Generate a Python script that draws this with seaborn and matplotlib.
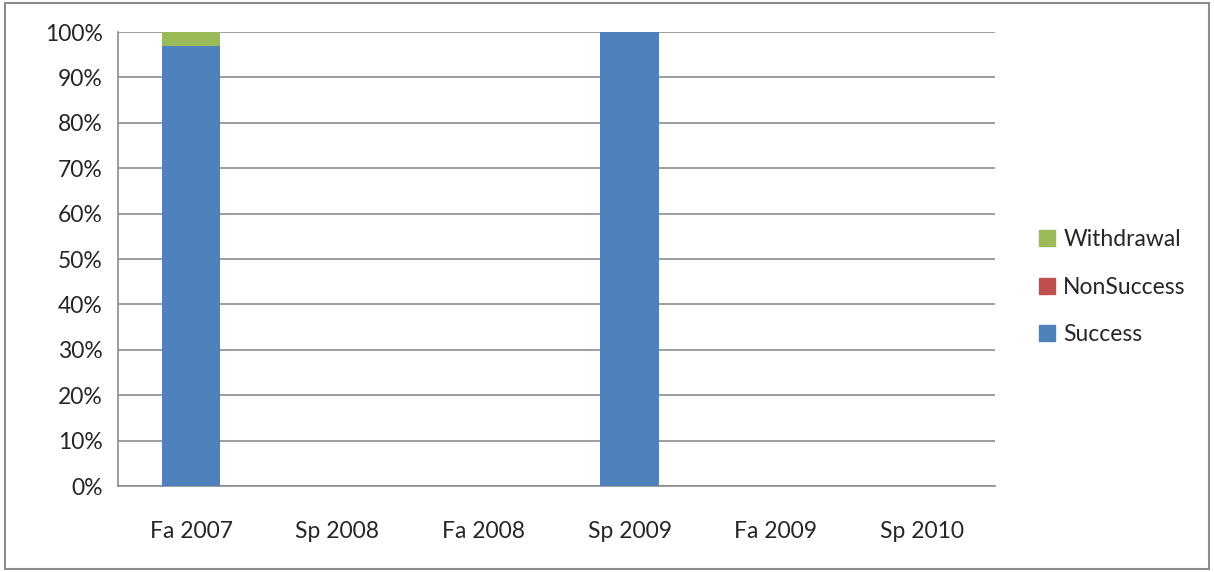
import numpy as np
import pandas as pd
import matplotlib
matplotlib.use("Agg")
import matplotlib.pyplot as plt
import seaborn as sns
from matplotlib.patches import Patch, Rectangle
from matplotlib.ticker import PercentFormatter

# Data (share of enrollments per term)
terms = ["Fa 2007", "Sp 2008", "Fa 2008", "Sp 2009", "Fa 2009", "Sp 2010"]
success = [96.9, 0, 0, 100, 0, 0]
nonsuccess = [0, 0, 0, 0, 0, 0]
withdrawal = [3.1, 0, 0, 0, 0, 0]

colors = {"Success": "#4f81bd", "NonSuccess": "#c0504d", "Withdrawal": "#9bbb59"}

df = pd.DataFrame({"term": terms, "Success": success,
                   "NonSuccess": nonsuccess, "Withdrawal": withdrawal})
df["s_ns"] = df["Success"] + df["NonSuccess"]
df["total"] = df["s_ns"] + df["Withdrawal"]

sns.set_style("white")
plt.rcParams['font.family'] = ['Lato', 'DejaVu Sans']
FS = 16.5

fig = plt.figure(figsize=(12.14, 5.72), dpi=100)
ax = fig.add_axes([0.0972, 0.1503, 0.7224, 0.7937])

# stacked by overdrawing cumulative totals
for col, key in [("total", "Withdrawal"), ("s_ns", "NonSuccess"), ("Success", "Success")]:
    sns.barplot(data=df, x="term", y=col, color=colors[key], width=0.4,
                saturation=1, linewidth=0, ax=ax, zorder=3)

ax.set_ylim(0, 100)
ax.set_xlim(-0.5, len(terms) - 0.5)
ax.set_yticks(np.arange(0, 101, 10))
ax.yaxis.set_major_formatter(PercentFormatter(decimals=0))
ax.set_xlabel("")
ax.set_ylabel("")

grid_c = "#8c8c8c"
ax.grid(axis="y", color=grid_c, linewidth=1.2, zorder=0)
ax.set_axisbelow(True)
for side in ["top", "right"]:
    ax.spines[side].set_visible(False)
ax.spines["left"].set_color(grid_c)
ax.spines["bottom"].set_color(grid_c)
ax.spines["left"].set_linewidth(1.2)
ax.spines["bottom"].set_linewidth(1.2)

# x ticks at category boundaries, labels centred
ax.set_xticks(np.arange(-0.5, len(terms), 1.0))
ax.set_xticklabels([])
ax.set_xticks(np.arange(len(terms)), minor=True)
ax.set_xticklabels(terms, minor=True)
ax.tick_params(axis="x", which="major", length=7, width=1.2, color=grid_c, direction="out")
ax.tick_params(axis="x", which="minor", length=0, pad=25, labelsize=FS)
ax.tick_params(axis="y", length=7, width=1.2, color=grid_c, direction="out", labelsize=FS, pad=4)

handles = [Patch(color=colors[k], label=k) for k in ["Withdrawal", "NonSuccess", "Success"]]
fig.legend(handles=handles, loc="center left", bbox_to_anchor=(0.839, 0.498),
           frameon=False, fontsize=FS, handlelength=0.7, handleheight=0.7,
           handletextpad=0.35, labelspacing=1.15)

fig.patches.append(Rectangle((0.004, 0.006), 0.992, 0.988, transform=fig.transFigure,
                             fill=False, edgecolor="#8c8c8c", linewidth=1.5))

fig.savefig("out.png", dpi=100)
